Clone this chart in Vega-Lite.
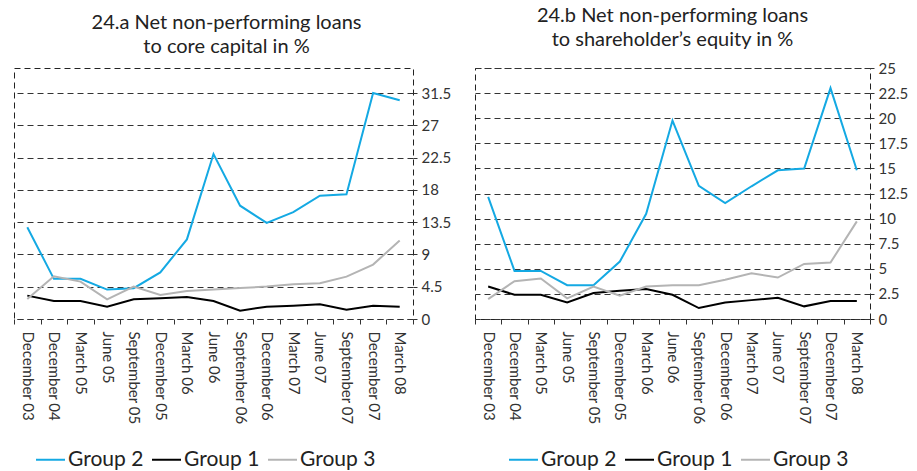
{
  "$schema": "https://vega.github.io/schema/vega-lite/v6.json",
  "padding": {"left": 5, "top": 5, "right": 4, "bottom": 0},
  "data": {"values": [
    {"panel":"a","group":"Group 2","period":"December 03","value":12.8},
    {"panel":"a","group":"Group 2","period":"December 04","value":5.6},
    {"panel":"a","group":"Group 2","period":"March 05","value":5.6},
    {"panel":"a","group":"Group 2","period":"June 05","value":4.1},
    {"panel":"a","group":"Group 2","period":"September 05","value":4.3},
    {"panel":"a","group":"Group 2","period":"December 05","value":6.5},
    {"panel":"a","group":"Group 2","period":"March 06","value":11.1},
    {"panel":"a","group":"Group 2","period":"June 06","value":23.0},
    {"panel":"a","group":"Group 2","period":"September 06","value":15.8},
    {"panel":"a","group":"Group 2","period":"December 06","value":13.4},
    {"panel":"a","group":"Group 2","period":"March 07","value":14.9},
    {"panel":"a","group":"Group 2","period":"June 07","value":17.2},
    {"panel":"a","group":"Group 2","period":"September 07","value":17.4},
    {"panel":"a","group":"Group 2","period":"December 07","value":31.5},
    {"panel":"a","group":"Group 2","period":"March 08","value":30.5},
    {"panel":"a","group":"Group 1","period":"December 03","value":3.26},
    {"panel":"a","group":"Group 1","period":"December 04","value":2.51},
    {"panel":"a","group":"Group 1","period":"March 05","value":2.51},
    {"panel":"a","group":"Group 1","period":"June 05","value":1.72},
    {"panel":"a","group":"Group 1","period":"September 05","value":2.75},
    {"panel":"a","group":"Group 1","period":"December 05","value":2.89},
    {"panel":"a","group":"Group 1","period":"March 06","value":3.07},
    {"panel":"a","group":"Group 1","period":"June 06","value":2.51},
    {"panel":"a","group":"Group 1","period":"September 06","value":1.16},
    {"panel":"a","group":"Group 1","period":"December 06","value":1.72},
    {"panel":"a","group":"Group 1","period":"March 07","value":1.86},
    {"panel":"a","group":"Group 1","period":"June 07","value":2.05},
    {"panel":"a","group":"Group 1","period":"September 07","value":1.3},
    {"panel":"a","group":"Group 1","period":"December 07","value":1.86},
    {"panel":"a","group":"Group 1","period":"March 08","value":1.72},
    {"panel":"a","group":"Group 3","period":"December 03","value":2.79},
    {"panel":"a","group":"Group 3","period":"December 04","value":5.96},
    {"panel":"a","group":"Group 3","period":"March 05","value":5.21},
    {"panel":"a","group":"Group 3","period":"June 05","value":2.75},
    {"panel":"a","group":"Group 3","period":"September 05","value":4.52},
    {"panel":"a","group":"Group 3","period":"December 05","value":3.35},
    {"panel":"a","group":"Group 3","period":"March 06","value":3.91},
    {"panel":"a","group":"Group 3","period":"June 06","value":4.1},
    {"panel":"a","group":"Group 3","period":"September 06","value":4.33},
    {"panel":"a","group":"Group 3","period":"December 06","value":4.52},
    {"panel":"a","group":"Group 3","period":"March 07","value":4.84},
    {"panel":"a","group":"Group 3","period":"June 07","value":4.98},
    {"panel":"a","group":"Group 3","period":"September 07","value":5.91},
    {"panel":"a","group":"Group 3","period":"December 07","value":7.59},
    {"panel":"a","group":"Group 3","period":"March 08","value":10.94},
    {"panel":"b","group":"Group 2","period":"December 03","value":12.17},
    {"panel":"b","group":"Group 2","period":"December 04","value":4.79},
    {"panel":"b","group":"Group 2","period":"March 05","value":4.79},
    {"panel":"b","group":"Group 2","period":"June 05","value":3.37},
    {"panel":"b","group":"Group 2","period":"September 05","value":3.37},
    {"panel":"b","group":"Group 2","period":"December 05","value":5.72},
    {"panel":"b","group":"Group 2","period":"March 06","value":10.48},
    {"panel":"b","group":"Group 2","period":"June 06","value":19.77},
    {"panel":"b","group":"Group 2","period":"September 06","value":13.26},
    {"panel":"b","group":"Group 2","period":"December 06","value":11.54},
    {"panel":"b","group":"Group 2","period":"March 07","value":13.22},
    {"panel":"b","group":"Group 2","period":"June 07","value":14.81},
    {"panel":"b","group":"Group 2","period":"September 07","value":14.98},
    {"panel":"b","group":"Group 2","period":"December 07","value":23.0},
    {"panel":"b","group":"Group 2","period":"March 08","value":14.81},
    {"panel":"b","group":"Group 1","period":"December 03","value":3.24},
    {"panel":"b","group":"Group 1","period":"December 04","value":2.41},
    {"panel":"b","group":"Group 1","period":"March 05","value":2.41},
    {"panel":"b","group":"Group 1","period":"June 05","value":1.65},
    {"panel":"b","group":"Group 1","period":"September 05","value":2.58},
    {"panel":"b","group":"Group 1","period":"December 05","value":2.81},
    {"panel":"b","group":"Group 1","period":"March 06","value":2.98},
    {"panel":"b","group":"Group 1","period":"June 06","value":2.41},
    {"panel":"b","group":"Group 1","period":"September 06","value":1.09},
    {"panel":"b","group":"Group 1","period":"December 06","value":1.65},
    {"panel":"b","group":"Group 1","period":"March 07","value":1.88},
    {"panel":"b","group":"Group 1","period":"June 07","value":2.12},
    {"panel":"b","group":"Group 1","period":"September 07","value":1.26},
    {"panel":"b","group":"Group 1","period":"December 07","value":1.79},
    {"panel":"b","group":"Group 1","period":"March 08","value":1.79},
    {"panel":"b","group":"Group 3","period":"December 03","value":1.98},
    {"panel":"b","group":"Group 3","period":"December 04","value":3.77},
    {"panel":"b","group":"Group 3","period":"March 05","value":4.03},
    {"panel":"b","group":"Group 3","period":"June 05","value":2.05},
    {"panel":"b","group":"Group 3","period":"September 05","value":3.24},
    {"panel":"b","group":"Group 3","period":"December 05","value":2.31},
    {"panel":"b","group":"Group 3","period":"March 06","value":3.24},
    {"panel":"b","group":"Group 3","period":"June 06","value":3.37},
    {"panel":"b","group":"Group 3","period":"September 06","value":3.37},
    {"panel":"b","group":"Group 3","period":"December 06","value":3.9},
    {"panel":"b","group":"Group 3","period":"March 07","value":4.56},
    {"panel":"b","group":"Group 3","period":"June 07","value":4.13},
    {"panel":"b","group":"Group 3","period":"September 07","value":5.49},
    {"panel":"b","group":"Group 3","period":"December 07","value":5.62},
    {"panel":"b","group":"Group 3","period":"March 08","value":9.72}
  ]},
  "spacing": 14,
  "hconcat": [
    {
      "title": {"text": ["24.a Net non-performing loans", "to core capital in %"], "frame": "group", "dx": 13},
      "width": 399,
      "height": 251,
      "transform": [{"filter": "datum.panel == 'a'"}],
      "mark": {"type": "line", "strokeWidth": 2},
      "encoding": {
        "x": {"field": "period", "type": "ordinal", "sort": null, "title": null,
              "scale": {"type": "band", "paddingInner": 0, "paddingOuter": 0}},
        "y": {"field": "value", "type": "quantitative", "title": null,
              "scale": {"domain": [0, 35], "nice": false, "zero": true},
              "axis": {"orient": "right", "values": [0, 4.5, 9, 13.5, 18, 22.5, 27, 31.5], "format": ".1~f"}},
        "color": {"field": "group", "type": "nominal", "title": null,
                  "scale": {"domain": ["Group 2", "Group 1", "Group 3"], "range": ["#14A9E3", "#000000", "#B4B4B4"]},
                  "legend": {"orient": "none", "legendX": 21, "legendY": 376}}
      }
    },
    {
      "title": {"text": ["24.b Net non-performing loans", "to shareholder\u2019s equity in %"], "frame": "group"},
      "width": 395,
      "height": 251,
      "transform": [{"filter": "datum.panel == 'b'"}],
      "mark": {"type": "line", "strokeWidth": 2},
      "encoding": {
        "x": {"field": "period", "type": "ordinal", "sort": null, "title": null,
              "scale": {"type": "band", "paddingInner": 0, "paddingOuter": 0}},
        "y": {"field": "value", "type": "quantitative", "title": null,
              "scale": {"domain": [0, 25], "nice": false, "zero": true},
              "axis": {"orient": "right", "values": [0, 2.5, 5, 7.5, 10, 12.5, 15, 17.5, 20, 22.5, 25], "format": ".1~f"}},
        "color": {"field": "group", "type": "nominal", "title": null,
                  "scale": {"domain": ["Group 2", "Group 1", "Group 3"], "range": ["#14A9E3", "#000000", "#B4B4B4"]},
                  "legend": {"orient": "none", "legendX": 33, "legendY": 376}}
      }
    }
  ],
  "resolve": {"scale": {"color": "independent", "y": "independent", "x": "independent"}, "legend": {"color": "independent"}},
  "config": {
    "font": "Lato",
    "view": {"stroke": "#222222", "strokeDash": [6, 4], "strokeWidth": 1},
    "axis": {"labelFont": "Lato", "labelFontSize": 15, "labelColor": "#333333", "domain": false,
             "tickColor": "#333333", "gridColor": "#333333", "gridDash": [6, 4], "gridWidth": 1, "gridOpacity": 1},
    "axisX": {"grid": false, "labelAngle": 90, "tickSize": 5, "labelPadding": 7, "tickBand": "extent"},
    "axisY": {"grid": true, "tickSize": 4, "labelPadding": 4},
    "title": {"fontSize": 20, "font": "Lato", "fontWeight": "normal", "color": "#222222", "lineHeight": 24, "offset": 11, "anchor": "middle"},
    "legend": {"direction": "horizontal", "symbolType": "stroke", "symbolSize": 841,
               "symbolStrokeWidth": 2, "labelFontSize": 21, "labelFont": "Lato", "labelColor": "#222222",
               "labelOffset": 2, "columnPadding": 4}
  }
}
